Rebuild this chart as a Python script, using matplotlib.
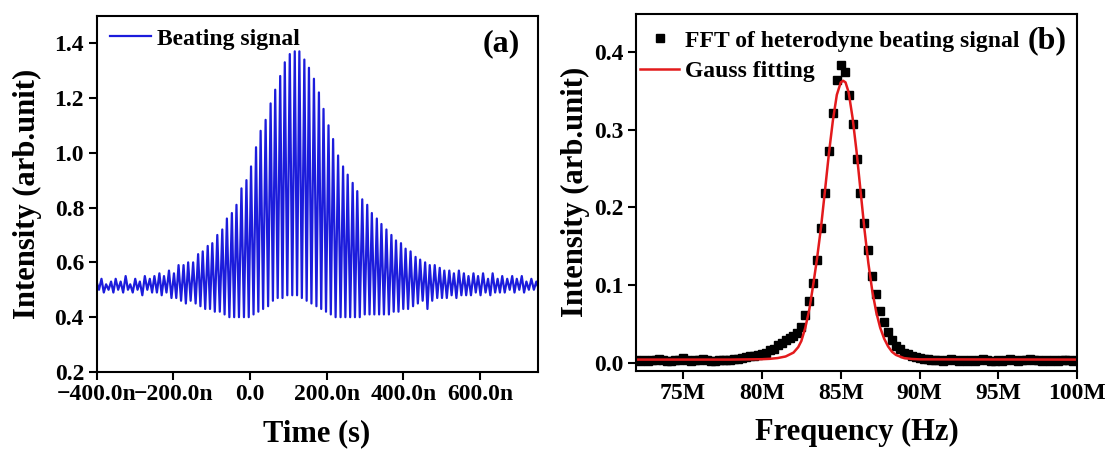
import numpy as np
import matplotlib
matplotlib.use("Agg")
import matplotlib.pyplot as plt
from matplotlib.ticker import FixedLocator, FuncFormatter

# ---------------- data : panel (a) beating signal ----------------
# time of each oscillation maximum (ns)
beat_peak_t_ns = [-400, -387, -375, -362, -350, -337, -324, -312, -299, -287,
                  -274, -261, -249, -236, -224, -211, -198, -186, -173, -161,
                  -148, -135, -123, -110, -98, -85, -72, -60, -47, -35,
                  -22, -9, 3, 16, 28, 41, 54, 66, 79, 91,
                  104, 117, 129, 142, 154, 167, 180, 192, 205, 217,
                  230, 243, 255, 268, 280, 293, 306, 318, 331, 343,
                  356, 369, 381, 394, 406, 419, 432, 444, 457, 469,
                  482, 495, 507, 520, 532, 545, 558, 570, 583, 595,
                  608, 621, 633, 646, 658, 671, 684, 696, 709, 721,
                  734, 747]
# value at each maximum
beat_upper = [0.53, 0.54, 0.52, 0.53, 0.54, 0.53, 0.55, 0.52, 0.54, 0.53,
              0.55, 0.54, 0.55, 0.56, 0.55, 0.57, 0.56, 0.59, 0.59, 0.60,
              0.60, 0.63, 0.64, 0.66, 0.67, 0.70, 0.72, 0.76, 0.78, 0.81,
              0.87, 0.90, 0.95, 1.02, 1.08, 1.12, 1.18, 1.23, 1.28, 1.33,
              1.36, 1.37, 1.37, 1.34, 1.31, 1.27, 1.22, 1.16, 1.10, 1.05,
              0.99, 0.95, 0.92, 0.89, 0.86, 0.83, 0.81, 0.78, 0.76, 0.74,
              0.72, 0.70, 0.68, 0.67, 0.65, 0.64, 0.62, 0.61, 0.60, 0.59,
              0.59, 0.58, 0.57, 0.57, 0.56, 0.57, 0.56, 0.55, 0.56, 0.55,
              0.56, 0.54, 0.56, 0.54, 0.55, 0.54, 0.55, 0.54, 0.55, 0.53,
              0.54, 0.53]
# value at the minimum following each maximum
beat_lower = [0.50, 0.49, 0.50, 0.49, 0.50, 0.49, 0.50, 0.49, 0.50, 0.48,
              0.50, 0.49, 0.49, 0.48, 0.49, 0.47, 0.47, 0.46, 0.45, 0.46,
              0.45, 0.44, 0.43, 0.43, 0.42, 0.42, 0.41, 0.40, 0.40, 0.40,
              0.40, 0.40, 0.41, 0.42, 0.43, 0.44, 0.46, 0.47, 0.47, 0.48,
              0.48, 0.48, 0.47, 0.46, 0.45, 0.44, 0.43, 0.42, 0.41, 0.40,
              0.40, 0.40, 0.40, 0.40, 0.40, 0.41, 0.41, 0.41, 0.41, 0.41,
              0.41, 0.42, 0.42, 0.43, 0.43, 0.44, 0.45, 0.46, 0.43, 0.46,
              0.47, 0.47, 0.47, 0.48, 0.47, 0.48, 0.48, 0.48, 0.49, 0.48,
              0.49, 0.48, 0.49, 0.49, 0.49, 0.50, 0.49, 0.50, 0.49, 0.50,
              0.50, 0.50]

# ---------------- data : panel (b) FFT spectrum ----------------
fft_start_mhz = 72.0
fft_step_mhz = 0.25
fft_values = [0.003, 0.002, 0.003, 0.002, 0.003, 0.004, 0.005, 0.003, 0.002, 0.002,
              0.003, 0.004, 0.006, 0.003, 0.002, 0.003, 0.004, 0.005, 0.003, 0.002,
              0.002, 0.003, 0.003, 0.004, 0.004, 0.005, 0.005, 0.006, 0.007, 0.008,
              0.009, 0.010, 0.011, 0.013, 0.016, 0.018, 0.023, 0.026, 0.029, 0.032,
              0.035, 0.038, 0.046, 0.061, 0.079, 0.103, 0.132, 0.174, 0.219, 0.272,
              0.322, 0.364, 0.383, 0.374, 0.345, 0.308, 0.262, 0.219, 0.180, 0.145,
              0.111, 0.088, 0.066, 0.053, 0.040, 0.029, 0.022, 0.017, 0.013, 0.011,
              0.009, 0.007, 0.006, 0.005, 0.005, 0.004, 0.004, 0.003, 0.002, 0.004,
              0.005, 0.003, 0.002, 0.003, 0.002, 0.003, 0.002, 0.004, 0.005, 0.003,
              0.002, 0.002, 0.003, 0.002, 0.004, 0.005, 0.003, 0.002, 0.003, 0.004,
              0.005, 0.004, 0.003, 0.002, 0.003, 0.002, 0.003, 0.002, 0.003, 0.004,
              0.003, 0.002, 0.003]

# Gauss fitting curve
fit_freq_mhz = [72, 78, 80, 80.5, 81, 81.5, 82, 82.3, 82.5, 82.75, 83, 83.25, 83.5,
                83.75, 84, 84.25, 84.5, 84.75, 85, 85.15, 85.3, 85.5, 85.75, 86,
                86.25, 86.5, 86.75, 87, 87.25, 87.5, 87.75, 88, 88.25, 88.5, 89,
                89.5, 90, 100]
fit_values = [0.004, 0.004, 0.0045, 0.005, 0.006, 0.008, 0.013, 0.020, 0.028, 0.045,
              0.068, 0.100, 0.135, 0.175, 0.222, 0.270, 0.312, 0.345, 0.361, 0.363,
              0.361, 0.348, 0.315, 0.272, 0.222, 0.172, 0.128, 0.092, 0.065, 0.045,
              0.031, 0.021, 0.014, 0.010, 0.006, 0.0048, 0.0043, 0.004]

time_ticks_ns = [-400, -200, 0, 200, 400, 600]
freq_ticks_mhz = [75, 80, 85, 90, 95, 100]

# ---------------- style ----------------
plt.rcParams['font.family'] = ['Liberation Serif', 'DejaVu Serif']
plt.rcParams['font.weight'] = 'bold'
plt.rcParams['axes.linewidth'] = 1.5
TICK_FS = 17
LABEL_FS = 22
LEG_FS = 17

W, H = 1108, 449
fig = plt.figure(figsize=(W / 100, H / 100), dpi=100)


def axes_px(left, top, right, bottom):
    return fig.add_axes([left / W, 1 - bottom / H, (right - left) / W, (bottom - top) / H])


def style_axes(ax):
    ax.tick_params(axis='both', which='major', direction='out', length=6, width=1.5,
                   labelsize=TICK_FS, top=False, right=False, pad=3)
    for lab in ax.get_xticklabels() + ax.get_yticklabels():
        lab.set_fontweight('bold')


# ---------------- panel (a) ----------------
ax1 = axes_px(96.5, 15.7, 537.5, 372)
pt = np.asarray(beat_peak_t_ns, dtype=float) * 1e-9
half = np.append(np.diff(pt), pt[-1] - pt[-2]) / 2.0
tt = np.empty(2 * len(pt))
yy = np.empty(2 * len(pt))
tt[0::2] = pt
tt[1::2] = pt + half
yy[0::2] = beat_upper
yy[1::2] = beat_lower
ax1.plot(tt, yy, color='#1c1cdc', lw=1.6, label='Beating signal')
ax1.set_xlim(-400e-9, 750e-9)
ax1.set_ylim(0.2, 1.5)
ax1.xaxis.set_major_locator(FixedLocator([v * 1e-9 for v in time_ticks_ns]))
ax1.yaxis.set_major_locator(FixedLocator([0.2, 0.4, 0.6, 0.8, 1.0, 1.2, 1.4]))


def tfmt(x, pos):
    n = round(x * 1e9)
    if n == 0:
        return '0.0'
    s = f'{abs(n):.1f}n'
    return ('\u2212' if n < 0 else '') + s


ax1.xaxis.set_major_formatter(FuncFormatter(tfmt))
ax1.yaxis.set_major_formatter(FuncFormatter(lambda v, p: f'{v:.1f}'))
style_axes(ax1)
ax1.set_xlabel('Time (s)', fontsize=LABEL_FS, fontweight='bold', labelpad=10)
ax1.set_ylabel('Intensity (arb.unit)', fontsize=LABEL_FS, fontweight='bold', labelpad=9)
ax1.legend(loc='upper left', bbox_to_anchor=(0.03, 0.965), frameon=False,
           prop={'size': LEG_FS, 'weight': 'bold'}, handlelength=1.75,
           handletextpad=0.25, borderaxespad=0, borderpad=0)
ax1.text(0.96, 0.92, '(a)', transform=ax1.transAxes, ha='right', va='center',
         fontsize=23, fontweight='bold')

# ---------------- panel (b) ----------------
ax2 = axes_px(635.8, 14, 1077.3, 370.7)
ff = fft_start_mhz + fft_step_mhz * np.arange(len(fft_values))
ax2.plot(ff * 1e6, fft_values, linestyle='none', marker='s', ms=6, color='black',
         label='FFT of heterodyne beating signal')
ax2.plot(np.asarray(fit_freq_mhz) * 1e6, fit_values, color='#e31a1c', lw=1.8,
         label='Gauss fitting')
ax2.set_xlim(72e6, 100e6)
ax2.set_ylim(-0.0103, 0.449)
ax2.xaxis.set_major_locator(FixedLocator([v * 1e6 for v in freq_ticks_mhz]))
ax2.xaxis.set_major_formatter(FuncFormatter(lambda v, p: f'{round(v / 1e6):d}M'))
ax2.yaxis.set_major_locator(FixedLocator([0.0, 0.1, 0.2, 0.3, 0.4]))
ax2.yaxis.set_major_formatter(FuncFormatter(lambda v, p: f'{v:.1f}'))
style_axes(ax2)
ax2.set_xlabel('Frequency (Hz)', fontsize=LABEL_FS, fontweight='bold', labelpad=10)
ax2.set_ylabel('Intensity (arb.unit)', fontsize=LABEL_FS, fontweight='bold', labelpad=3)
ax2.legend(loc='upper left', bbox_to_anchor=(0.01, 0.955), frameon=False,
           prop={'size': LEG_FS, 'weight': 'bold'}, handlelength=1.65,
           handletextpad=0.25, labelspacing=0.38, borderaxespad=0, borderpad=0)
ax2.text(0.975, 0.925, '(b)', transform=ax2.transAxes, ha='right', va='center',
         fontsize=23, fontweight='bold')

fig.savefig('out.png', dpi=100)
